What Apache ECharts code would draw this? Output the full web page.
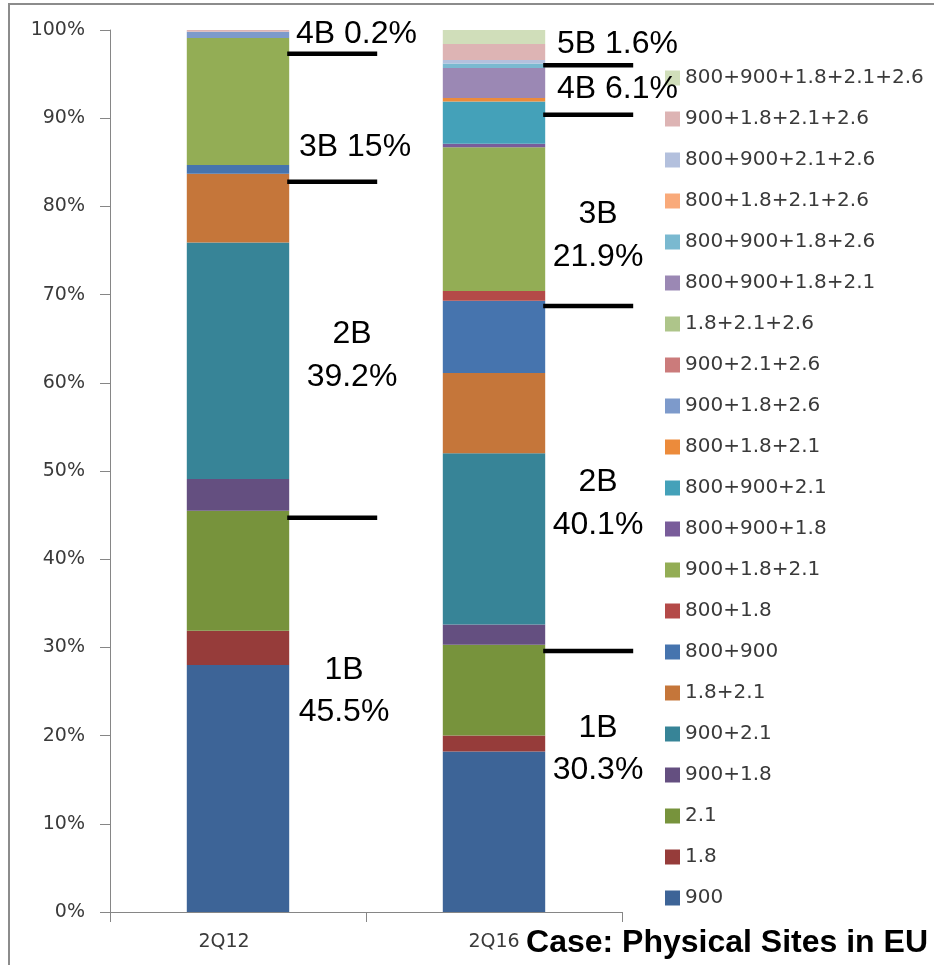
<!DOCTYPE html>
<html>
<head>
<meta charset="utf-8">
<script src="https://cdn.jsdelivr.net/npm/echarts@6/dist/echarts.min.js"></script>
<style>
html,body{margin:0;padding:0;background:#fff;}
#main{width:934px;height:965px;}
</style>
</head>
<body>
<div id="main"></div>
<script>
// ---- data ----
const categories = ['2Q12', '2Q16'];
const seriesNames = [
  '900', '1.8', '2.1', '900+1.8', '900+2.1', '1.8+2.1', '800+900', '800+1.8',
  '900+1.8+2.1', '800+900+1.8', '800+900+2.1', '800+1.8+2.1', '900+1.8+2.6',
  '900+2.1+2.6', '1.8+2.1+2.6', '800+900+1.8+2.1', '800+900+1.8+2.6',
  '800+1.8+2.1+2.6', '800+900+2.1+2.6', '900+1.8+2.1+2.6', '800+900+1.8+2.1+2.6'
];
const share2Q12 = [28.0, 3.9, 13.6, 3.6, 26.8, 7.8, 1.0, 0, 14.4, 0, 0, 0, 0.7, 0, 0, 0, 0, 0, 0, 0.2, 0];
const share2Q16 = [18.2, 1.8, 10.3, 2.3, 19.4, 9.1, 8.2, 1.1, 16.3, 0.4, 4.8, 0.4, 0, 0, 0, 3.4, 0.5, 0, 0.4, 1.8, 1.6];
const yTickValues = [0, 10, 20, 30, 40, 50, 60, 70, 80, 90, 100];
// annotation levels (percent) of the black marker lines
const marker2Q12 = [97.3, 82.8, 44.7];
const marker2Q16 = [96.0, 90.4, 68.7, 29.6];

// ---- styles ----
const colors = [
  '#3d6497', '#963c3a', '#77933c', '#644f80', '#378497', '#c5763a', '#4674ae', '#b44a48',
  '#93ad55', '#795c9a', '#44a1b9', '#ec8b3b', '#7d9acb',
  '#cb7b7b', '#aec58a', '#9b88b4', '#7ab9d0',
  '#f9aa7a', '#b3c0dd', '#ddb4b4', '#d0deba'
];

const chart = echarts.init(document.getElementById('main'));
const axisGray = '#868686';
const labelFont = { color: '#3a3a3a', fontSize: 19, fontFamily: 'DejaVu Sans' };
const option = {
  animation: false,
  backgroundColor: '#ffffff',
  grid: { left: 110, right: 312, top: 30, bottom: 53 },
  xAxis: {
    type: 'category',
    data: categories,
    axisLine: { lineStyle: { color: axisGray, width: 1 } },
    axisTick: { show: true, length: 10, lineStyle: { color: axisGray } },
    axisLabel: Object.assign({
      margin: 21,
      formatter: (v, i) => i === 0 ? '{l|' + v + '}' : v,
      rich: { l: Object.assign({ padding: [0, 28, 0, 0] }, labelFont) }
    }, labelFont)
  },
  yAxis: {
    type: 'value',
    min: yTickValues[0],
    max: yTickValues[yTickValues.length - 1],
    interval: yTickValues[1] - yTickValues[0],
    axisLine: { show: true, lineStyle: { color: axisGray, width: 1 } },
    axisTick: { show: true, length: 10, lineStyle: { color: axisGray } },
    splitLine: { show: false },
    axisLabel: Object.assign({ formatter: '{value}%', margin: 25 }, labelFont)
  },
  legend: {
    orient: 'vertical',
    left: 665,
    top: 68,
    padding: 0,
    itemWidth: 15,
    itemHeight: 15,
    itemGap: 21,
    icon: 'rect',
    selectedMode: false,
    data: seriesNames.slice().reverse(),
    textStyle: { fontSize: 20, fontFamily: 'DejaVu Sans', color: '#3a3a3a', lineHeight: 20 }
  },
  series: seriesNames.map((name, i) => ({
    name: name,
    type: 'bar',
    stack: 'total',
    barWidth: '40%',
    data: [share2Q12[i], share2Q16[i]],
    itemStyle: { color: colors[i] }
  }))
};
chart.setOption(option);

// ---- annotations ----
const x0 = chart.convertToPixel({ xAxisIndex: 0 }, categories[0]);
const x1 = chart.convertToPixel({ xAxisIndex: 0 }, categories[1]);
const band = x1 - x0;
const half = band * 0.4 / 2;
const graphics = [];
graphics.push({
  type: 'rect', silent: true, z: -10,
  shape: { x: 9, y: 4, width: 940, height: 980 },
  style: { fill: 'none', stroke: '#8c8c8c', lineWidth: 2 }
});
function addLines(cx, levels) {
  levels.forEach(v => {
    const y = chart.convertToPixel({ yAxisIndex: 0 }, v);
    graphics.push({
      type: 'line', silent: true, z: 100,
      shape: { x1: cx + half - 2, y1: y, x2: cx + half + 88, y2: y },
      style: { stroke: '#000', lineWidth: 4.5 }
    });
  });
}
addLines(x0, marker2Q12);
addLines(x1, marker2Q16);

const annoFont = { fontSize: 32, fontFamily: 'Liberation Sans, Arial, sans-serif', fill: '#000' };
function txt(text, x, y, align) {
  graphics.push({
    type: 'text', silent: true, z: 101,
    x: x, y: y,
    style: Object.assign({ text: text, textAlign: align || 'center', textVerticalAlign: 'middle' }, annoFont)
  });
}
txt('4B 0.2%', 296, 34, 'left');
txt('3B 15%', 299, 147, 'left');
txt('2B', 352, 334);
txt('39.2%', 352, 377);
txt('1B', 344, 670);
txt('45.5%', 344, 712);
txt('5B 1.6%', 557, 44, 'left');
txt('4B 6.1%', 557, 89, 'left');
txt('3B', 598, 214);
txt('21.9%', 598, 257);
txt('2B', 598, 482);
txt('40.1%', 598, 525);
txt('1B', 598, 728);
txt('30.3%', 598, 770);
graphics.push({
  type: 'text', silent: true, z: 101,
  x: 928, y: 943,
  style: { text: 'Case: Physical Sites in EU', textAlign: 'right', textVerticalAlign: 'middle',
    fontSize: 32, fontWeight: 'bold', fontFamily: 'Liberation Sans, Arial, sans-serif', fill: '#000' }
});
chart.setOption({ graphic: graphics });
</script>
</body>
</html>
